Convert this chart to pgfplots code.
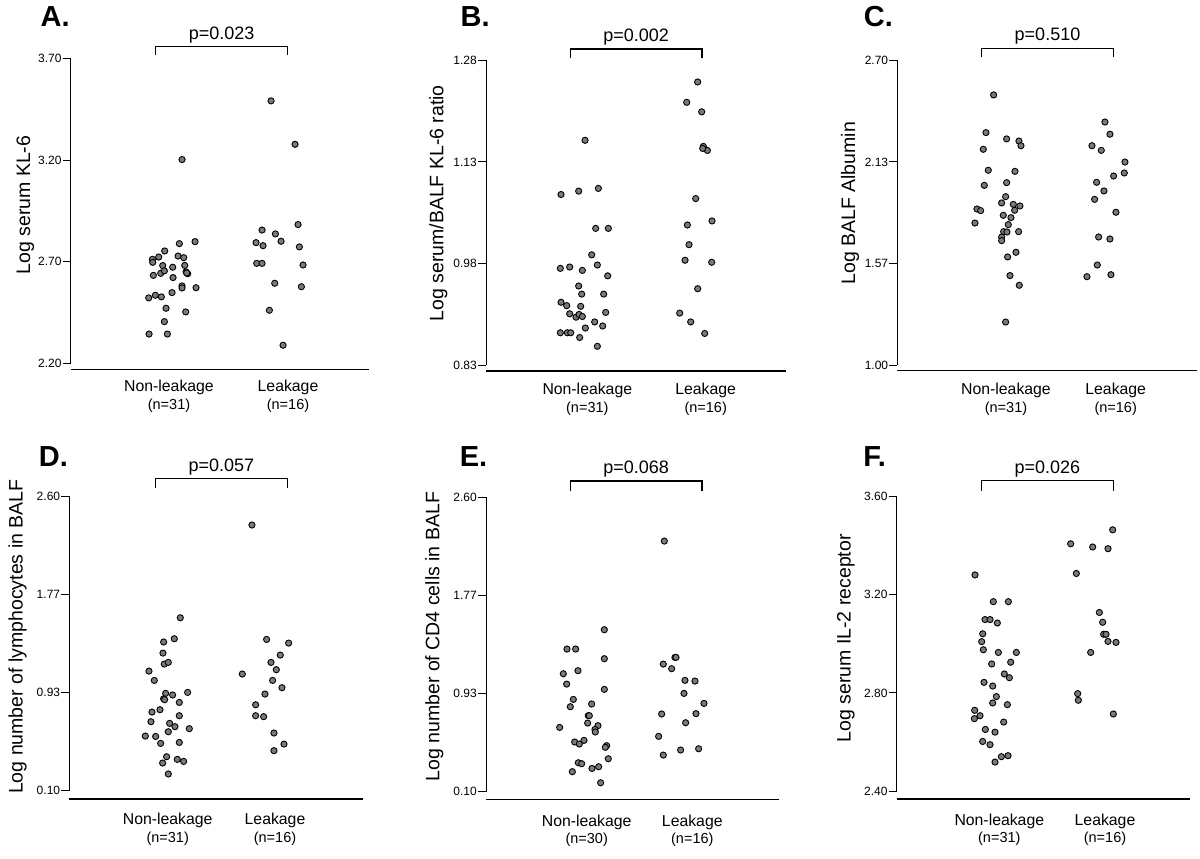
\documentclass[border=0pt]{standalone}
\usepackage{fontspec}
\setmainfont{Liberation Sans}
\usepackage{pgfplots}
\pgfplotsset{compat=1.18}

% 1 px of the reference = 1 pt here
\newcommand\fs[1]{\fontsize{#1}{#1}\selectfont}

\pgfplotsset{
  panel/.style={
    scale only axis, anchor=south west, clip=false,
    axis x line=none, axis y line*=left,
    axis line style={-, line width=1pt, black},
    xtick=\empty,
    tick align=outside, major tick length=8pt,
    ytick style={line width=1pt, black},
    yticklabel style={font=\fs{12}, inner sep=1pt},
    /pgf/number format/assume math mode=true,
  },
  dots/.style={only marks, mark=*, mark size=3.1pt,
    mark options={draw=black, fill=black!52, line width=0.9pt}},
}

\begin{document}
\begin{tikzpicture}

% ---------- A ----------
\begin{axis}[panel, at={(70.7pt,-363.3pt)}, width=298.7pt, height=304.7pt,
  xmin=212, xmax=1108, ymin=2.2, ymax=3.7,
  ytick={2.2,2.7,3.2,3.7}, yticklabels={2.20,2.70,3.20,3.70}]
\addplot[dots] coordinates {
 (546,3.203) (538,2.789) (585,2.799) (494,2.753) (476,2.723) (457,2.712)
 (458,2.697) (534,2.728) (551,2.720) (488,2.681) (518,2.673) (554,2.682)
 (460,2.633) (482,2.643) (493,2.655) (519,2.622) (558,2.650) (563,2.641)
 (546,2.581) (546,2.571) (588,2.572) (516,2.548) (446,2.522) (466,2.535)
 (484,2.527) (498,2.471) (557,2.453) (493,2.405) (447,2.344) (502,2.344)
 (560,2.645)};
\addplot[dots] coordinates {
 (813,3.492) (885,3.278) (894,2.883) (786,2.856) (826,2.837) (843,2.801)
 (768,2.794) (789,2.779) (898,2.773) (770,2.692) (786,2.692) (909,2.684)
 (824,2.594) (904,2.577) (808,2.461) (849,2.289)};
\end{axis}

% ---------- B ----------
\begin{axis}[panel, at={(486pt,-365.3pt)}, width=299.7pt, height=305pt,
  xmin=228, xmax=1127, ymin=0.83, ymax=1.28,
  ytick={0.83,0.98,1.13,1.28}, yticklabels={0.83,0.98,1.13,1.28}]
\addplot[dots] coordinates {
 (525,1.162) (453,1.082) (506,1.087) (565,1.091) (557,1.032) (595,1.032)
 (545,0.993) (451,0.973) (479,0.975) (517,0.970) (562,0.978) (593,0.962)
 (506,0.947) (515,0.935) (581,0.935) (453,0.923) (470,0.918) (512,0.917)
 (479,0.906) (498,0.901) (507,0.905) (517,0.902) (587,0.908) (554,0.894)
 (578,0.888) (526,0.885) (451,0.878) (472,0.878) (482,0.878) (509,0.871)
 (562,0.858)};
\addplot[dots] coordinates {
 (863,1.248) (830,1.218) (875,1.204) (880,1.153) (892,1.147) (857,1.076)
 (906,1.043) (832,1.037) (837,1.008) (825,0.985) (905,0.982) (863,0.943)
 (809,0.907) (842,0.894) (884,0.877) (878,1.150)};
\end{axis}

% ---------- C ----------
\begin{axis}[panel, at={(897.3pt,-365.3pt)}, width=299.3pt, height=305pt,
  xmin=232, xmax=1130, ymin=1.0, ymax=2.7,
  ytick={1.0,1.5667,2.1333,2.7}, yticklabels={1.00,1.57,2.13,2.70}]
\addplot[dots] coordinates {
 (521,2.507) (498,2.297) (560,2.262) (597,2.250) (603,2.224) (490,2.204)
 (505,2.087) (585,2.081) (560,2.018) (493,2.003) (557,1.940) (545,1.905)
 (580,1.897) (600,1.888) (584,1.864) (471,1.871) (482,1.862) (550,1.836)
 (573,1.823) (465,1.793) (565,1.784) (551,1.745) (561,1.743) (596,1.745)
 (545,1.715) (545,1.695) (588,1.630) (563,1.604) (570,1.500) (598,1.446)
 (557,1.241)};
\addplot[dots] coordinates {
 (855,2.356) (870,2.288) (816,2.224) (844,2.198) (915,2.133) (913,2.072)
 (881,2.055) (830,2.020) (852,1.972) (824,1.925) (888,1.853) (836,1.715)
 (870,1.704) (832,1.559) (873,1.505) (801,1.494)};
\end{axis}

% ---------- D ----------
\begin{axis}[panel, at={(69.3pt,-790.7pt)}, width=294pt, height=294.3pt,
  xmin=208, xmax=1090, ymin=0.1, ymax=2.6,
  ytick={0.1,0.9333,1.7667,2.6}, yticklabels={0.10,0.93,1.77,2.60}]
\addplot[dots] coordinates {
 (541,1.569) (491,1.363) (523,1.391) (489,1.269) (493,1.176) (505,1.190)
 (447,1.116) (463,1.037) (563,0.935) (497,0.927) (518,0.913) (491,0.881)
 (494,0.873) (538,0.850) (480,0.788) (456,0.768) (538,0.737) (453,0.686)
 (509,0.672) (525,0.644) (568,0.627) (505,0.601) (436,0.564) (467,0.561)
 (482,0.502) (538,0.510) (500,0.389) (532,0.366) (551,0.349) (488,0.335)
 (505,0.242)};
\addplot[dots] coordinates {
 (756,2.357) (800,1.385) (866,1.354) (841,1.252) (813,1.190) (829,1.128)
 (727,1.091) (818,1.037) (846,0.975) (795,0.921) (767,0.830) (767,0.737)
 (791,0.729) (822,0.590) (852,0.496) (822,0.440)};
\end{axis}

% ---------- E ----------
\begin{axis}[panel, at={(486pt,-791.7pt)}, width=293.3pt, height=294.3pt,
  xmin=228, xmax=1108, ymin=0.1, ymax=2.6,
  ytick={0.1,0.9333,1.7667,2.6}, yticklabels={0.10,0.93,1.77,2.60}]
\addplot[dots] coordinates {
 (583,1.476) (471,1.312) (497,1.312) (583,1.230) (504,1.128) (460,1.102)
 (470,1.014) (583,0.969) (490,0.884) (545,0.845) (481,0.822) (535,0.746)
 (538,0.746) (533,0.683) (564,0.661) (449,0.646) (555,0.629) (556,0.607)
 (494,0.522) (508,0.505) (522,0.536) (590,0.491) (586,0.477) (595,0.380)
 (505,0.346) (515,0.338) (546,0.298) (566,0.312) (487,0.270) (572,0.176)};
\addplot[dots] coordinates {
 (763,2.229) (795,1.241) (798,1.241) (760,1.184) (785,1.145) (825,1.046)
 (855,1.040) (822,0.935) (882,0.850) (755,0.760) (858,0.763) (827,0.686)
 (746,0.570) (760,0.411) (812,0.454) (866,0.465)};
\end{axis}

% ---------- F ----------
\begin{axis}[panel, at={(896.7pt,-791pt)}, width=293.3pt, height=294.3pt,
  xmin=230, xmax=1110, ymin=2.4, ymax=3.6,
  ytick={2.4,2.8,3.2,3.6}, yticklabels={2.40,2.80,3.20,3.60}]
\addplot[dots] coordinates {
 (465,3.281) (520,3.172) (565,3.172) (495,3.099) (510,3.099) (532,3.085)
 (488,3.041) (485,3.009) (490,2.976) (535,2.965) (589,2.965) (572,2.925)
 (515,2.918) (553,2.877) (568,2.862) (492,2.843) (518,2.828) (529,2.785)
 (518,2.759) (562,2.752) (464,2.729) (480,2.707) (463,2.695) (551,2.681)
 (496,2.651) (525,2.640) (488,2.602) (510,2.589) (544,2.540) (564,2.544)
 (525,2.518)};
\addplot[dots] coordinates {
 (878,3.465) (752,3.408) (818,3.395) (864,3.388) (769,3.287) (838,3.128)
 (848,3.088) (851,3.039) (858,3.039) (864,3.010) (888,3.006) (812,2.965)
 (773,2.797) (775,2.770) (880,2.714)};
\end{axis}

% ---------- annotations, in reference pixels ----------
\begin{scope}[x=1pt, y=-1pt, line width=1.2pt]
\path (0,0) rectangle (1200,859);

% bottom lines
\draw (70.7,369.3) -- (369.3,369.3);
\draw (486,371) -- (785.7,371);
\draw (897.3,370.3) -- (1196.7,370.3);
\draw (69.3,799) -- (363.3,799);
\draw (486,799.3) -- (779.3,799.3);
\draw (896.7,799) -- (1190,799);

% brackets
\draw (155.7,55.3) -- (155.7,46.7) -- (287.7,46.7) -- (287.7,55.3);
\draw (570.3,58.3) -- (570.3,49) -- (702,49) -- (702,58.3);
\draw (981.7,57.3) -- (981.7,48.3) -- (1113.3,48.3) -- (1113.3,57.3);
\draw (155.3,488.3) -- (155.3,478.7) -- (287.3,478.7) -- (287.3,488.3);
\draw (570.3,491) -- (570.3,481) -- (702,481) -- (702,491);
\draw (981.3,490.7) -- (981.3,480.7) -- (1113.3,480.7) -- (1113.3,490.7);

\tikzset{every node/.style={inner sep=0pt, anchor=base}}
% p values
\node[font=\fs{18}] at (221.7,39.3) {p=0.023};
\node[font=\fs{18}] at (636.2,41.6) {p=0.002};
\node[font=\fs{18}] at (1047.5,41) {p=0.510};
\node[font=\fs{18}] at (221.3,471.3) {p=0.057};
\node[font=\fs{18}] at (636.2,473.6) {p=0.068};
\node[font=\fs{18}] at (1047.3,473.3) {p=0.026};

% panel letters
\node[font=\fs{29}\bfseries, anchor=base west] at (40,26.7) {A.};
\node[font=\fs{29}\bfseries, anchor=base west] at (460,26.7) {B.};
\node[font=\fs{29}\bfseries, anchor=base west] at (863.3,26.7) {C.};
\node[font=\fs{29}\bfseries, anchor=base west] at (38.3,466.5) {D.};
\node[font=\fs{29}\bfseries, anchor=base west] at (459.3,466.5) {E.};
\node[font=\fs{29}\bfseries, anchor=base west] at (862.7,466.5) {F.};

% y labels
\node[font=\fs{19.5}, rotate=90] at (30,205) {Log serum KL-6};
\node[font=\fs{19.5}, rotate=90] at (443.3,203.3) {Log serum/BALF KL-6 ratio};
\node[font=\fs{19.5}, rotate=90] at (855,203.3) {Log BALF Albumin};
\node[font=\fs{19.5}, rotate=90] at (22.7,636.7) {Log number of lymphocytes in BALF};
\node[font=\fs{19.5}, rotate=90] at (439.3,636.7) {Log number of CD4 cells in BALF};
\node[font=\fs{19.5}, rotate=90] at (850.7,638.3) {Log serum IL-2 receptor};

% category labels
\foreach \a/\b/\y/\n/\na/\nb in {
  169/288/391.2/409/31/16,
  587.3/705.7/394.5/412.3/31/16,
  1006/1115.7/394.5/412.3/31/16,
  167.7/275/824.5/842.3/31/16,
  586.7/692.3/826.2/843.3/30/16,
  999.3/1105/825.5/842.3/31/16}{
  \node[font=\fs{15.8}] at (\a,\y) {Non-leakage};
  \node[font=\fs{15.8}] at (\b,\y) {Leakage};
  \node[font=\fs{14.5}] at (\a,\n) {(n=\na)};
  \node[font=\fs{14.5}] at (\b,\n) {(n=\nb)};
}
\end{scope}
\end{tikzpicture}
\end{document}
